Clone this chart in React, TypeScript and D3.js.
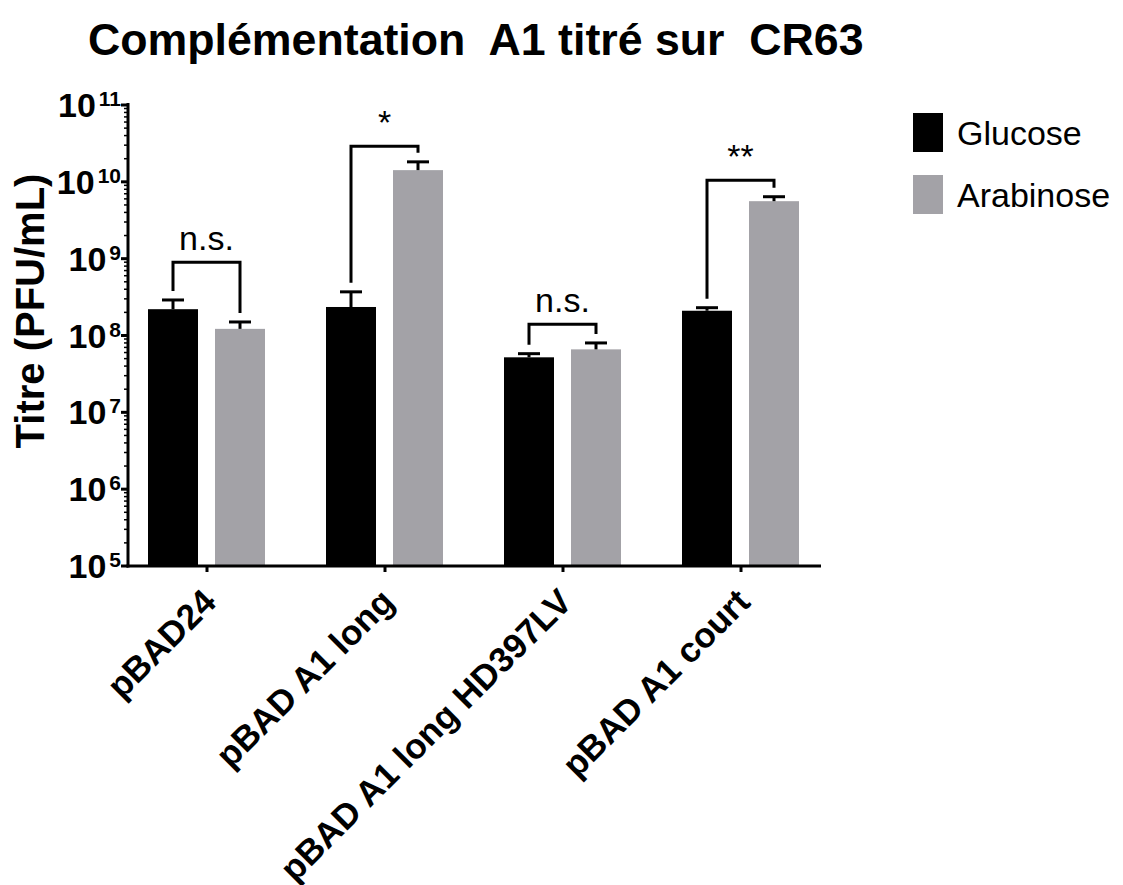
import * as d3 from 'd3';

// --- data ---
const categories = ['pBAD24', 'pBAD A1 long', 'pBAD A1 long HD397LV', 'pBAD A1 court'];
const series = ['Glucose', 'Arabinose'];
const glucose = [2.2e8, 2.35e8, 5.2e7, 2.1e8];
const glucoseErr = [7e7, 1.35e8, 6e6, 2e7];
const arabinose = [1.22e8, 1.42e10, 6.6e7, 5.6e9];
const arabinoseErr = [2.8e7, 4e9, 1.4e7, 8e8];
const sigLabels = ['n.s.', '*', 'n.s.', '**'];
const bracketTops = [9.0e8, 2.9e10, 1.4e8, 1.05e10];
const yExponents = [5, 6, 7, 8, 9, 10, 11];

const colors: Record<string, string> = { Glucose: '#000000', Arabinose: '#a3a2a7' };
const FONT = 'Arial, "Liberation Sans", Helvetica, sans-serif';

export default function App() {
  const left = 128;
  const bottom = 566;
  const top = 105;
  const axisRight = 821;

  const y = d3.scaleLog().domain([1e5, 1e11]).range([bottom, top]);
  const x = d3.scaleBand<string>().domain(categories).range([118, 830]).padding(0);
  const xs = d3.scaleBand<string>().domain(series).range([30, 147]).paddingInner(17 / 67);

  const values: Record<string, number[]> = { Glucose: glucose, Arabinose: arabinose };
  const errs: Record<string, number[]> = { Glucose: glucoseErr, Arabinose: arabinoseErr };

  // log minor ticks 2..9 in every decade
  const minor: number[] = [];
  for (let e = 5; e < 11; e++) for (let k = 2; k <= 9; k++) minor.push(k * Math.pow(10, e));

  const bw = xs.bandwidth();
  const cx = (cat: string, s: string) => (x(cat) ?? 0) + (xs(s) ?? 0) + bw / 2;

  return (
    <svg width={1123} height={885} style={{ position: 'absolute', left: 0, top: 0, background: '#fff' }} fontFamily={FONT}>
      {/* title */}
      <text x={88} y={55} fontSize={44.7} fontWeight="bold" style={{ whiteSpace: 'pre' }}>
        {'Complémentation  A1 titré sur  CR63'}
      </text>

      {/* bars */}
      {series.map((s) =>
        categories.map((c, i) => {
          const v = values[s][i];
          return (
            <rect key={s + c} x={(x(c) ?? 0) + (xs(s) ?? 0)} y={y(v)} width={bw} height={bottom - y(v)} fill={colors[s]} />
          );
        })
      )}

      {/* error bars (upper only) */}
      {series.map((s) =>
        categories.map((c, i) => {
          const v = values[s][i];
          const t = y(v + errs[s][i]);
          const xc = cx(c, s);
          return (
            <g key={'e' + s + c} stroke="#000" strokeWidth={3}>
              <line x1={xc} x2={xc} y1={y(v)} y2={t} />
              <line x1={xc - 11} x2={xc + 11} y1={t} y2={t} />
            </g>
          );
        })
      )}

      {/* significance brackets */}
      {categories.map((c, i) => {
        const x1 = cx(c, 'Glucose');
        const x2 = cx(c, 'Arabinose');
        const yt = y(bracketTops[i]);
        const yl = y(glucose[i] + glucoseErr[i]) - 9;
        const yr = y(arabinose[i] + arabinoseErr[i]) - 9;
        return (
          <g key={'b' + c}>
            <path d={`M${x1},${yl}V${yt}H${x2}V${yr}`} fill="none" stroke="#000" strokeWidth={3} />
            <text x={(x1 + x2) / 2} y={yt - 12} textAnchor="middle" fontSize={34}>
              {sigLabels[i]}
            </text>
          </g>
        );
      })}

      {/* y axis */}
      <g stroke="#000">
        <line x1={left} x2={left} y1={top - 2} y2={bottom + 1.5} strokeWidth={3} />
        {yExponents.map((e) => (
          <line key={'M' + e} x1={left - 7} x2={left} y1={y(Math.pow(10, e))} y2={y(Math.pow(10, e))} strokeWidth={3} />
        ))}
        {minor.map((m) => (
          <line key={'m' + m} x1={left - 4} x2={left} y1={y(m)} y2={y(m)} strokeWidth={1.5} />
        ))}
      </g>
      {yExponents.map((e) => (
        <text key={'t' + e} x={121} y={y(Math.pow(10, e)) + 12} textAnchor="end" fontSize={34} fontWeight="bold">
          10
          <tspan dx={3} dy={-11} fontSize={21}>
            {e}
          </tspan>
        </text>
      ))}
      <text transform={`translate(44,311) rotate(-90)`} textAnchor="middle" fontSize={40} fontWeight="bold">
        Titre (PFU/mL)
      </text>

      {/* x axis */}
      <g stroke="#000" strokeWidth={3}>
        <line x1={left - 1.5} x2={axisRight} y1={bottom} y2={bottom} />
        {categories.map((c) => {
          const xt = (x(c) ?? 0) + x.bandwidth() / 2;
          return <line key={'xt' + c} x1={xt} x2={xt} y1={bottom} y2={bottom + 6} />;
        })}
      </g>
      {categories.map((c) => {
        const xt = (x(c) ?? 0) + x.bandwidth() / 2;
        return (
          <text key={'xl' + c} transform={`translate(${xt + 11},604) rotate(-45)`} textAnchor="end" fontSize={35} fontWeight="bold">
            {c}
          </text>
        );
      })}

      {/* legend */}
      {series.map((s, i) => (
        <g key={'l' + s} transform={`translate(913,${113 + i * 62})`}>
          <rect width={30} height={39} fill={colors[s]} />
          <text x={44} y={32} fontSize={34}>
            {s}
          </text>
        </g>
      ))}
    </svg>
  );
}
